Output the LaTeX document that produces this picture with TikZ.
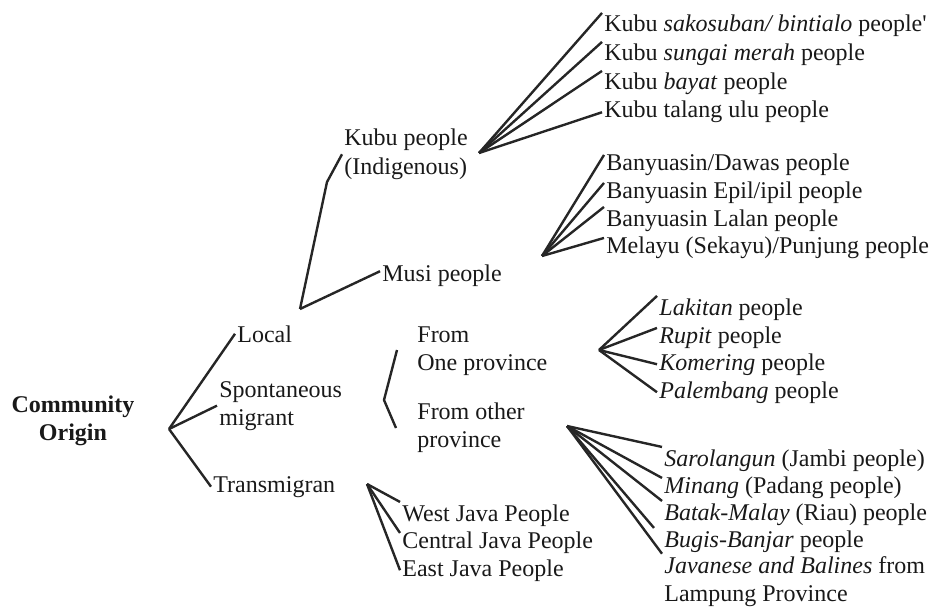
\documentclass[tikz,border=0pt]{standalone}
\usepackage{fontspec}
\setmainfont{Liberation Serif}

\begin{document}
\begin{tikzpicture}[x=0.5pt,y=-0.5pt,
	every node/.style={font=\fontsize{12}{14}\selectfont,inner sep=1pt,text=black!90},
	lbl/.style={anchor=base west,align=left},
	br/.style={line width=1.2pt,black!85,line join=round}]
		\useasboundingbox (0,0) rectangle (936,610);
		\node[anchor=base,align=center,font=\fontsize{12}{14}\selectfont\bfseries] (origin) at (73,440) {Community\\Origin};
		\node[lbl] (local) at (235,342) {Local};
		\node[lbl] (spont) at (217,425) {Spontaneous\\migrant};
		\node[lbl] (trans) at (211,492) {Transmigran};
		\node[lbl] (kubu) at (342,174) {Kubu people\\(Indigenous)};
		\node[lbl] (musi) at (380,281) {Musi people};
		\node[lbl] (onepr) at (415,370) {From\\One province};
		\node[lbl] (otherpr) at (415,447) {From other\\province};
		\node[lbl] (kA) at (602,32) {Kubu \textit{sakosuban/ bintialo} people\textquotesingle};
		\node[lbl] (kB) at (602,61) {Kubu \textit{sungai merah} people};
		\node[lbl] (kC) at (602,90) {Kubu \textit{bayat} people};
		\node[lbl] (kD) at (602,118) {Kubu talang ulu people};
		\node[lbl] (bA) at (604,170) {Banyuasin/Dawas people};
		\node[lbl] (bB) at (604,198) {Banyuasin Epil/ipil people};
		\node[lbl] (bC) at (604,226) {Banyuasin Lalan people};
		\node[lbl] (bD) at (604,253) {Melayu (Sekayu)/Punjung people};
		\node[lbl] (oA) at (657,315) {\textit{Lakitan} people};
		\node[lbl] (oB) at (657,343) {\textit{Rupit} people};
		\node[lbl] (oC) at (657,370) {\textit{Komering} people};
		\node[lbl] (oD) at (657,398) {\textit{Palembang} people};
		\node[lbl] (pA) at (662,466) {\textit{Sarolangun} (Jambi people)};
		\node[lbl] (pB) at (662,493) {\textit{Minang} (Padang people)};
		\node[lbl] (pC) at (662,520) {\textit{Batak-Malay} (Riau) people};
		\node[lbl] (pD) at (662,547) {\textit{Bugis-Banjar} people};
		\node[lbl] (pE) at (662,601) {\textit{Javanese and Balines} from\\Lampung Province};
		\node[lbl] (jA) at (400,521) {West Java People};
		\node[lbl] (jB) at (400,548) {Central Java People};
		\node[lbl] (jC) at (400,576) {East Java People};
		\coordinate (root) at (169,429);
		\coordinate (localfork) at (300,309);
		\coordinate (kink) at (327,182);
		\coordinate (kubufan) at (479,153);
		\coordinate (musifan) at (542,256);
		\coordinate (onefan) at (599,350);
		\coordinate (otherfan) at (567,426);
		\coordinate (javafan) at (367,484);
		\draw[br] (root)--(local.west);
		\draw[br] (root)--(spont.west);
		\draw[br] (root)--(trans.west);
		\draw[br] (localfork)--(kink)--(kubu.west);
		\draw[br] (localfork)--([yshift=2pt]musi.west);
		\draw[br] (kubufan)--(kA.north west);
		\draw[br] (kubufan)--(kB.north west);
		\draw[br] (kubufan)--(kC.north west);
		\draw[br] (kubufan)--(kD.west);
		\draw[br] (musifan)--([yshift=-2pt]bA.north west);
		\draw[br] (musifan)--([yshift=-2pt]bB.north west);
		\draw[br] (musifan)--(bC.north west);
		\draw[br] (musifan)--([yshift=-2pt]bD.north west);
		\draw[br] (onefan)--(oA.north west);
		\draw[br] (onefan)--([yshift=-2pt]oB.north west);
		\draw[br] (onefan)--(oC.west);
		\draw[br] (onefan)--(oD.west);
		\draw[br] (otherfan)--(pA.north west);
		\draw[br] (otherfan)--([yshift=-2pt]pB.north west);
		\draw[br] (otherfan)--(pC.north west);
		\draw[br] (otherfan)--([xshift=-4pt]pD.north west);
		\draw[br] (otherfan)--(pE.north west);
		\draw[br] (javafan)--(jA.north west);
		\draw[br] (javafan)--([yshift=-2pt]jB.north west);
		\draw[br] (javafan)--(jC.west);
		\draw[br] (397,350)--(384,400)--(396,428);
	\end{tikzpicture}
\end{document}
